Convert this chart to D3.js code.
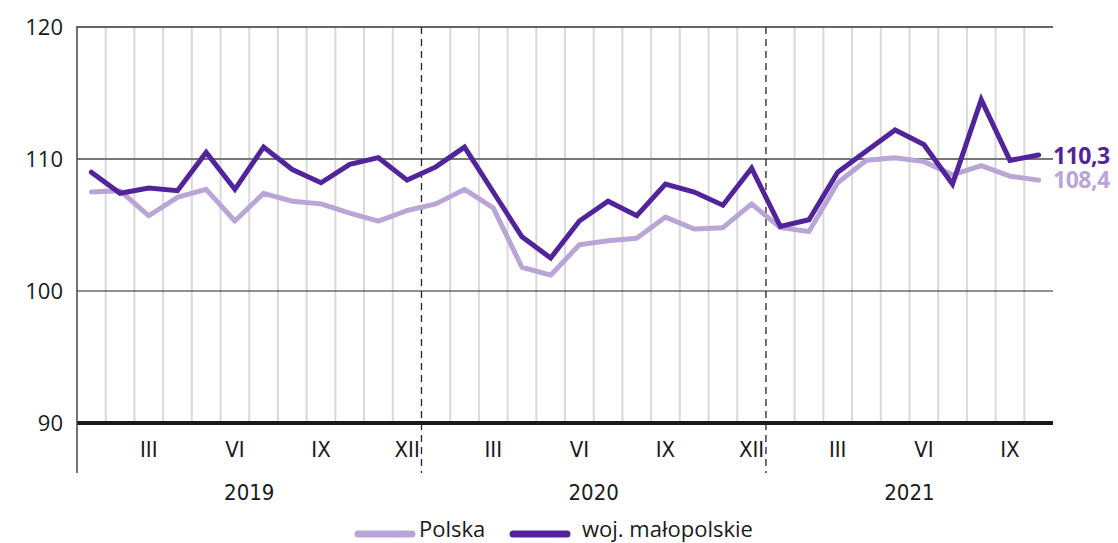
<!DOCTYPE html>
<html>
<head>
<meta charset="utf-8">
<script src="https://cdn.jsdelivr.net/npm/d3@7"></script>
<style>
  body { margin: 0; background: #fff; }
  svg { display: block; }
  .num { font-family: "Open Sans", "Noto Sans", sans-serif; }
  .narrow { font-family: "Liberation Sans Narrow", "DejaVu Sans Condensed", sans-serif; }
</style>
</head>
<body>
<svg id="chart" width="1118" height="543"></svg>
<script>
// Monthly values, I 2019 - X 2021
const polska = [107.5, 107.6, 105.7, 107.1, 107.7, 105.3, 107.4, 106.8, 106.6, 105.9, 105.3, 106.1,
  106.6, 107.7, 106.3, 101.8, 101.2, 103.5, 103.8, 104.0, 105.6, 104.7, 104.8, 106.6,
  104.8, 104.5, 108.2, 109.9, 110.1, 109.8, 108.8, 109.5, 108.7, 108.4]
const malopolskie = [109.0, 107.4, 107.8, 107.6, 110.5, 107.7, 110.9, 109.2, 108.2, 109.6, 110.1, 108.4,
  109.4, 110.9, 107.5, 104.1, 102.5, 105.3, 106.8, 105.7, 108.1, 107.5, 106.5, 109.3,
  104.9, 105.4, 109.0, 110.6, 112.2, 111.1, 108.1, 114.5, 109.9, 110.3]
const monthNames = ['', '', 'III', '', '', 'VI', '', '', 'IX', '', '', 'XII']
const years = ['2019', '2020', '2021']
const yTicks = [90, 100, 110, 120]
const seriesNames = ['Polska', 'woj. małopolskie']

const colors = { light: '#b9a6d7', dark: '#52249b' }

const svg = d3.select('#chart')
const plotLeft = 77, plotRight = 1053, plotTop = 27, plotBottom = 423

const months = d3.range(malopolskie.length)
const x = d3.scaleBand().domain(months).range([plotLeft, plotRight]).padding(0)
const y = d3.scaleLinear().domain([90, 120]).range([plotBottom, plotTop])
const cx = i => x(i) + x.bandwidth() / 2

// vertical month grid
svg.append('g')
  .selectAll('line')
  .data(months.filter(i => i > 0 && i % 12 !== 0))
  .join('line')
  .attr('x1', d => x(d)).attr('x2', d => x(d))
  .attr('y1', plotTop).attr('y2', plotBottom)
  .attr('stroke', '#d9d9d9')
  .attr('stroke-width', 2)

// horizontal grid lines
const hStyle = { 120: ['#333', 1.5], 110: ['#777', 2], 100: ['#222', 1], 90: ['#1a1a1a', 4] }
svg.append('g')
  .selectAll('line')
  .data(yTicks)
  .join('line')
  .attr('x1', plotLeft).attr('x2', plotRight)
  .attr('y1', d => y(d)).attr('y2', d => y(d))
  .attr('stroke', d => hStyle[d][0])
  .attr('stroke-width', d => hStyle[d][1])

// year separators
svg.append('g')
  .selectAll('line')
  .data([12, 24])
  .join('line')
  .attr('x1', d => x(d)).attr('x2', d => x(d))
  .attr('y1', plotTop).attr('y2', 473)
  .attr('stroke', '#222')
  .attr('stroke-width', 1.3)
  .attr('stroke-dasharray', '7,5')

// left axis line
svg.append('line')
  .attr('x1', plotLeft).attr('x2', plotLeft)
  .attr('y1', plotTop - 1).attr('y2', 473)
  .attr('stroke', '#444')
  .attr('stroke-width', 1.5)

// y labels
svg.append('g')
  .selectAll('text')
  .data(yTicks)
  .join('text')
  .attr('class', 'num')
  .attr('x', 63)
  .attr('y', d => y(d) + 8)
  .attr('text-anchor', 'end')
  .attr('font-size', 22)
  .attr('fill', '#1a1a1a')
  .text(d => d)

// month labels
svg.append('g')
  .selectAll('text')
  .data(months.filter(i => monthNames[i % 12]))
  .join('text')
  .attr('class', 'narrow')
  .attr('x', d => cx(d))
  .attr('y', 457)
  .attr('text-anchor', 'middle')
  .attr('font-size', 22)
  .attr('fill', '#1a1a1a')
  .text(d => monthNames[d % 12])

// year labels
svg.append('g')
  .selectAll('text')
  .data(years)
  .join('text')
  .attr('class', 'narrow')
  .attr('x', (d, i) => {
    const first = i * 12
    const last = Math.min(first + 11, months.length - 1)
    return (x(first) + x(last) + x.bandwidth()) / 2
  })
  .attr('y', 500)
  .attr('text-anchor', 'middle')
  .attr('font-size', 22)
  .attr('fill', '#1a1a1a')
  .text(d => d)

// lines
const line = d3.line().x((d, i) => cx(i)).y(d => y(d))
svg.append('path')
  .datum(polska)
  .attr('d', line)
  .attr('fill', 'none')
  .attr('stroke', colors.light)
  .attr('stroke-width', 5)
  .attr('stroke-linejoin', 'round')
  .attr('stroke-linecap', 'round')
svg.append('path')
  .datum(malopolskie)
  .attr('d', line)
  .attr('fill', 'none')
  .attr('stroke', colors.dark)
  .attr('stroke-width', 5)
  .attr('stroke-linejoin', 'miter')
  .attr('stroke-linecap', 'round')

// end labels
const fmt = v => v.toFixed(1).replace('.', ',')
const lastI = months.length - 1
svg.append('text')
  .attr('class', 'num')
  .attr('x', 1053).attr('y', 164)
  .attr('font-size', 23).attr('font-weight', 'bold')
  .attr('letter-spacing', -0.5)
  .attr('fill', colors.dark)
  .text(fmt(malopolskie[lastI]))
svg.append('text')
  .attr('class', 'num')
  .attr('x', 1053).attr('y', 188)
  .attr('font-size', 23).attr('font-weight', 'bold')
  .attr('letter-spacing', -0.5)
  .attr('fill', colors.light)
  .text(fmt(polska[lastI]))

// legend
const legend = svg.append('g')
const items = [
  { name: seriesNames[0], color: colors.light, x0: 358, tx: 419 },
  { name: seriesNames[1], color: colors.dark, x0: 513, tx: 582 }
]
legend.selectAll('line')
  .data(items)
  .join('line')
  .attr('x1', d => d.x0).attr('x2', d => d.x0 + 54)
  .attr('y1', 534).attr('y2', 534)
  .attr('stroke', d => d.color)
  .attr('stroke-width', 7)
  .attr('stroke-linecap', 'round')
legend.selectAll('text')
  .data(items)
  .join('text')
  .attr('class', 'num')
  .attr('x', d => d.tx).attr('y', 537)
  .attr('font-size', 22)
  .attr('fill', '#1a1a1a')
  .text(d => d.name)
</script>
</body>
</html>
